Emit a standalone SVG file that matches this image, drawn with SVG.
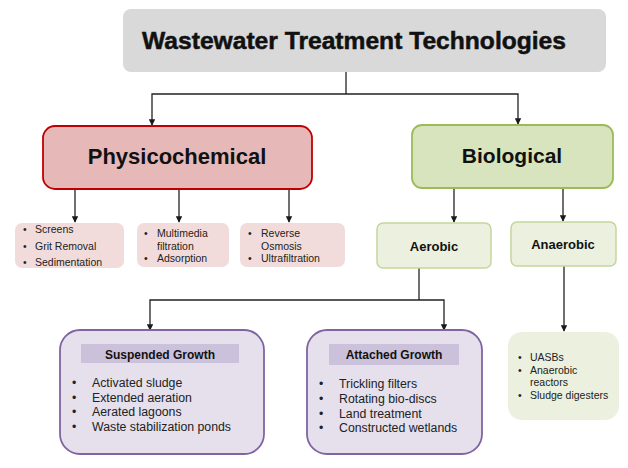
<svg xmlns="http://www.w3.org/2000/svg" width="628" height="468" viewBox="0 0 628 468">
  <defs>
    <marker id="arrow" viewBox="0 0 8 8" refX="7" refY="4" markerWidth="5" markerHeight="5" orient="auto">
      <path d="M0,0 L8,4 L0,8 Z" fill="#1a1a1a"/>
    </marker>
    <style>
      text { font-family: "Liberation Sans", Arial, sans-serif; fill: #111; }
      .conn { fill: none; stroke: #222; stroke-width: 1.3; }
      .arr { marker-end: url(#arrow); }
      .h1 { font-size: 24px; font-weight: bold; stroke: #111; stroke-width: 0.5; }
      .h2 { font-weight: bold; text-anchor: middle; }
      .h3 { font-size: 13px; font-weight: bold; text-anchor: middle; }
      .hd { font-size: 12px; font-weight: bold; text-anchor: middle; }
      .sm { font-size: 10.5px; fill: #222; }
      .md { font-size: 12.3px; fill: #222; }
      .pink { fill: #f2dcdb; }
      .purple { fill: #e5e0ec; stroke: #8064a2; stroke-width: 1.8; }
      .band { fill: #ccc1da; }
    </style>
  </defs>

  <!-- connectors -->
  <g id="connectors">
    <path class="conn" d="M346,72 V94"/>
    <path class="conn arr" d="M346,94 H152 V125"/>
    <path class="conn arr" d="M346,94 H518 V124"/>
    <path class="conn arr" d="M75,189 V222"/>
    <path class="conn arr" d="M179,189 V222"/>
    <path class="conn arr" d="M289,189 V222"/>
    <path class="conn arr" d="M454,188 V222"/>
    <path class="conn arr" d="M563,188 V221"/>
    <path class="conn" d="M419,268 V300"/>
    <path class="conn arr" d="M419,300 H150 V330"/>
    <path class="conn arr" d="M419,300 H444 V330"/>
    <path class="conn arr" d="M564,266 V331"/>
  </g>

  <!-- root -->
  <g id="root">
    <rect x="123" y="9" width="483" height="63" rx="8" fill="#d9d9d9"/>
    <text class="h1" x="142" y="49" textLength="424" lengthAdjust="spacingAndGlyphs">Wastewater Treatment Technologies</text>
  </g>

  <!-- physicochemical branch -->
  <g id="physicochemical">
    <rect x="43" y="126" width="269" height="63" rx="12" fill="#e6b8b7" stroke="#c00000" stroke-width="1.8"/>
    <text class="h2" x="177" y="164" font-size="22">Physicochemical</text>
  </g>
  <g id="physical-separation">
    <rect class="pink" x="15" y="223" width="109" height="45" rx="7"/>
    <text class="sm" x="23" y="233">•</text><text class="sm" x="35" y="233">Screens</text>
    <text class="sm" x="23" y="250">•</text><text class="sm" x="35" y="250">Grit Removal</text>
    <text class="sm" x="23" y="266">•</text><text class="sm" x="35" y="266">Sedimentation</text>
  </g>
  <g id="filtration">
    <rect class="pink" x="137" y="223" width="92" height="44" rx="7"/>
    <text class="sm" x="144" y="237">•</text><text class="sm" x="157" y="237">Multimedia</text>
    <text class="sm" x="157" y="250">filtration</text>
    <text class="sm" x="144" y="262">•</text><text class="sm" x="157" y="262">Adsorption</text>
  </g>
  <g id="membranes">
    <rect class="pink" x="240" y="223" width="105" height="44" rx="7"/>
    <text class="sm" x="248" y="237">•</text><text class="sm" x="261" y="237">Reverse</text>
    <text class="sm" x="261" y="250">Osmosis</text>
    <text class="sm" x="248" y="262">•</text><text class="sm" x="261" y="262">Ultrafiltration</text>
  </g>

  <!-- biological branch -->
  <g id="biological">
    <rect x="412" y="125" width="201" height="63" rx="10" fill="#d7e4bd" stroke="#9bbb59" stroke-width="1.8"/>
    <text class="h2" x="512" y="163" font-size="21">Biological</text>
  </g>
  <g id="aerobic">
    <rect x="377" y="223" width="114" height="45" rx="6" fill="#ebf1de" stroke="#c3d69b" stroke-width="1.5"/>
    <text class="h3" x="434" y="251">Aerobic</text>
  </g>
  <g id="anaerobic">
    <rect x="511" y="222" width="105" height="44" rx="6" fill="#ebf1de" stroke="#c3d69b" stroke-width="1.5"/>
    <text class="h3" x="563" y="249">Anaerobic</text>
  </g>

  <g id="suspended-growth">
    <rect class="purple" x="60" y="330" width="204" height="124" rx="20"/>
    <rect class="band" x="81" y="344" width="158" height="19"/>
    <text class="hd" x="160" y="359">Suspended Growth</text>
    <text class="md" x="72" y="387">•</text><text class="md" x="92" y="387">Activated sludge</text>
    <text class="md" x="72" y="402">•</text><text class="md" x="92" y="402">Extended aeration</text>
    <text class="md" x="72" y="416">•</text><text class="md" x="92" y="416">Aerated lagoons</text>
    <text class="md" x="72" y="431">•</text><text class="md" x="92" y="431">Waste stabilization ponds</text>
  </g>

  <g id="attached-growth">
    <rect class="purple" x="307" y="330" width="175" height="124" rx="20"/>
    <rect class="band" x="329" y="344" width="130" height="21"/>
    <text class="hd" x="394" y="359">Attached Growth</text>
    <text class="md" x="319" y="388">•</text><text class="md" x="339" y="388">Trickling filters</text>
    <text class="md" x="319" y="403">•</text><text class="md" x="339" y="403">Rotating bio-discs</text>
    <text class="md" x="319" y="418">•</text><text class="md" x="339" y="418">Land treatment</text>
    <text class="md" x="319" y="432">•</text><text class="md" x="339" y="432">Constructed wetlands</text>
  </g>

  <g id="anaerobic-processes">
    <rect x="508" y="332" width="111" height="88" rx="14" fill="#ebf1de"/>
    <text class="sm" x="518" y="361">•</text><text class="sm" x="530" y="361">UASBs</text>
    <text class="sm" x="518" y="374">•</text><text class="sm" x="530" y="374">Anaerobic</text>
    <text class="sm" x="530" y="386">reactors</text>
    <text class="sm" x="518" y="399">•</text><text class="sm" x="530" y="399">Sludge digesters</text>
  </g>
</svg>
